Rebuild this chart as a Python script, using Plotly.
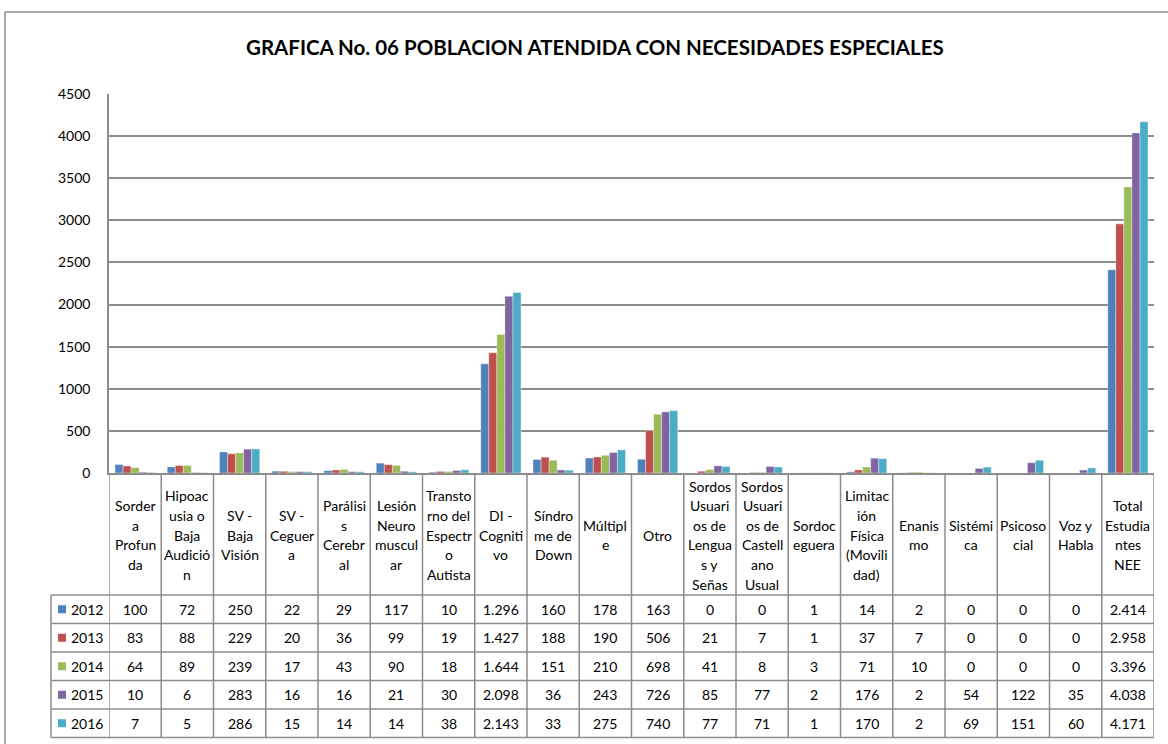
import plotly.graph_objects as go

# ---------------- data ----------------
categories = ["Sordera Profunda", "Hipoacusia o Baja Audición", "SV - Baja Visión", "SV - Ceguera",
              "Parálisis Cerebral", "Lesión Neuromuscular", "Transtorno del Espectro Autista",
              "DI - Cognitivo", "Síndrome de Down", "Múltiple", "Otro",
              "Sordos Usuarios de Lenguas y Señas", "Sordos Usuarios de Castellano Usual",
              "Sordoceguera", "Limitación Física (Movilidad)", "Enanismo", "Sistémica",
              "Psicosocial", "Voz y Habla", "Total Estudiantes NEE"]

header_labels = ["Sorder|a|Profun|da", "Hipoac|usia o|Baja|Audició|n", "SV -|Baja|Visión",
                 "SV -|Ceguer|a", "Parálisi|s|Cerebr|al", "Lesión|Neuro|muscul|ar",
                 "Transto|rno del|Espectr|o|Autista", "DI -|Cogniti|vo", "Síndro|me de|Down",
                 "Múltipl|e", "Otro", "Sordos|Usuari|os de|Lengua|s y|Señas",
                 "Sordos|Usuari|os de|Castell|ano|Usual", "Sordoc|eguera",
                 "Limitac|ión|Física|(Movili|dad)", "Enanis|mo", "Sistémi|ca", "Psicoso|cial",
                 "Voz y|Habla", "Total|Estudia|ntes|NEE"]

years = ["2012", "2013", "2014", "2015", "2016"]

v2012 = [100, 72, 250, 22, 29, 117, 10, 1296, 160, 178, 163, 0, 0, 1, 14, 2, 0, 0, 0, 2414]
v2013 = [83, 88, 229, 20, 36, 99, 19, 1427, 188, 190, 506, 21, 7, 1, 37, 7, 0, 0, 0, 2958]
v2014 = [64, 89, 239, 17, 43, 90, 18, 1644, 151, 210, 698, 41, 8, 3, 71, 10, 0, 0, 0, 3396]
v2015 = [10, 6, 283, 16, 16, 21, 30, 2098, 36, 243, 726, 85, 77, 2, 176, 2, 54, 122, 35, 4038]
v2016 = [7, 5, 286, 15, 14, 14, 38, 2143, 33, 275, 740, 77, 71, 1, 170, 2, 69, 151, 60, 4171]

series = [v2012, v2013, v2014, v2015, v2016]
colors = ["#4F81BD", "#C0504D", "#9BBB59", "#8064A2", "#4BACC6"]

title_text = "GRAFICA No. 06 POBLACION ATENDIDA CON NECESIDADES ESPECIALES"

# ---------------- layout helpers ----------------
W, H = 1168, 744
FONT = "Lato"
GRID = "#8c8c8c"


def px(x):
    return x / W


def py(y):
    return 1 - y / H


PLOT_L, PLOT_R = 109, 1154
PLOT_T, PLOT_B = 94, 473
HEAD_B = 595
ROW_H = 28.5
TABLE_L = 51
n = len(categories)

fig = go.Figure()
for yr, vals, col in zip(years, series, colors):
    fig.add_trace(go.Bar(x=categories, y=vals, name=yr,
                         marker=dict(color=col, line=dict(width=0.6, color="rgba(255,255,255,0.6)"))))

shapes = []
annotations = []

# outer chart border (top & left)
shapes.append(dict(type="line", xref="paper", yref="paper", x0=px(5), x1=1, y0=py(12), y1=py(12),
                   line=dict(color=GRID, width=1.5)))
shapes.append(dict(type="line", xref="paper", yref="paper", x0=px(5), x1=px(5), y0=py(12), y1=0,
                   line=dict(color=GRID, width=1.5)))

# table vertical lines at category boundaries
for i in range(n + 1):
    shapes.append(dict(type="line", xref="x", yref="paper", x0=i - 0.5, x1=i - 0.5,
                       y0=py(PLOT_B), y1=py(HEAD_B + 5 * ROW_H), line=dict(color=GRID, width=1.5)))
# left column line
shapes.append(dict(type="line", xref="paper", yref="paper", x0=px(TABLE_L), x1=px(TABLE_L),
                   y0=py(HEAD_B), y1=py(HEAD_B + 5 * ROW_H), line=dict(color=GRID, width=1.5)))
# horizontal row lines
for k in range(6):
    yy = HEAD_B + k * ROW_H
    shapes.append(dict(type="line", xref="paper", yref="paper", x0=px(TABLE_L), x1=px(PLOT_R),
                       y0=py(yy), y1=py(yy), line=dict(color=GRID, width=1.5)))

# header labels
HEAD_C = (PLOT_B + HEAD_B) / 2 + 1
LINE_H = 19.6
for i, lab in enumerate(header_labels):
    parts = lab.split("|")
    m = len(parts)
    for j, p in enumerate(parts):
        yc = HEAD_C + (j - (m - 1) / 2) * LINE_H
        annotations.append(dict(x=categories[i], xref="x", y=py(yc), yref="paper", text=p,
                                showarrow=False, xanchor="center", yanchor="middle",
                                font=dict(family=FONT, size=14, color="#000")))


def fmt(v):
    return f"{v:,}".replace(",", ".")


# table values and legend keys
for r, (yr, vals, col) in enumerate(zip(years, series, colors)):
    yc = HEAD_B + (r + 0.5) * ROW_H
    shapes.append(dict(type="rect", xref="paper", yref="paper", x0=px(58), x1=px(66),
                       y0=py(yc - 4), y1=py(yc + 4), fillcolor=col, line=dict(width=0)))
    annotations.append(dict(x=px(69), xref="paper", y=py(yc), yref="paper", text=yr, showarrow=False,
                            xanchor="left", yanchor="middle", font=dict(family=FONT, size=14, color="#000")))
    for i, v in enumerate(vals):
        annotations.append(dict(x=categories[i], xref="x", y=py(yc), yref="paper", text=fmt(v),
                                showarrow=False, xanchor="center", yanchor="middle",
                                font=dict(family=FONT, size=14, color="#000")))

# title
annotations.append(dict(x=px(595), xref="paper", y=py(47), yref="paper", text=f"<b>{title_text}</b>",
                        showarrow=False, xanchor="center", yanchor="middle",
                        font=dict(family=FONT, size=20.5, color="#000")))

fig.update_layout(
    width=W, height=H, autosize=False,
    margin=dict(l=0, r=0, t=0, b=0, pad=0, autoexpand=False),
    paper_bgcolor="white", plot_bgcolor="white",
    showlegend=False,
    barmode="group", bargap=0.23, bargroupgap=0,
    font=dict(family=FONT, size=14, color="#000"),
    xaxis=dict(domain=[px(PLOT_L), px(PLOT_R)], type="category", range=[-0.5, n - 0.5],
               showticklabels=False, showgrid=False, showline=True, linecolor=GRID, linewidth=1.5,
               ticks="", zeroline=False, automargin=False),
    yaxis=dict(domain=[py(PLOT_B), py(PLOT_T)], range=[0, 4500], dtick=500, tickformat="d",
               showgrid=True, gridcolor=GRID, gridwidth=1.5, showline=True, linecolor=GRID,
               linewidth=1.5, zeroline=False, ticks="", ticklabelstandoff=14, automargin=False,
               tickfont=dict(family=FONT, size=14, color="#000")),
    shapes=shapes,
    annotations=annotations,
)

fig.write_html("out.html", config={"displayModeBar": False},
               post_script="document.body.style.margin='0';document.body.style.overflow='hidden';")
